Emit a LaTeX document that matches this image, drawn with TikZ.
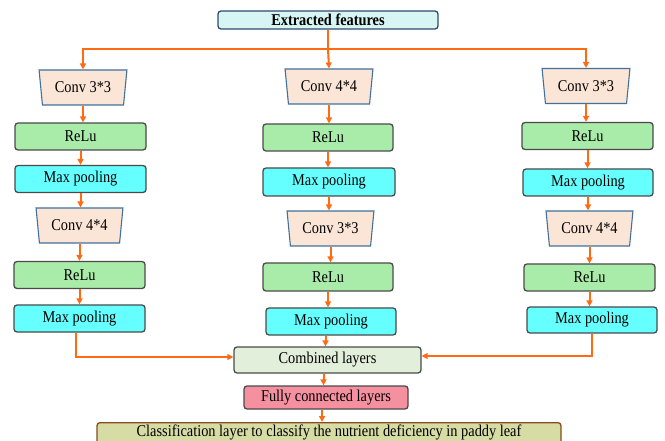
\documentclass[tikz,border=0pt]{standalone}
\usepackage{fontspec}
\setmainfont[FakeStretch=0.87]{Liberation Serif}
\usetikzlibrary{shapes.geometric,arrows.meta}
\definecolor{arr}{HTML}{FF6A13}
\definecolor{bord}{HTML}{4A4A4A}
\definecolor{convfill}{HTML}{FBE5D6}
\definecolor{convbord}{HTML}{41719C}
\definecolor{relufill}{HTML}{A9EBA9}
\definecolor{mpfill}{HTML}{66FFFF}
\definecolor{combfill}{HTML}{E2EFDA}
\definecolor{fcfill}{HTML}{F4909F}
\definecolor{clsfill}{HTML}{D6DCA4}
\definecolor{clsbord}{HTML}{8B4A1C}
\definecolor{extfill}{HTML}{D6F5F3}
\definecolor{extbord}{HTML}{2F4A6A}
\begin{document}
\begin{tikzpicture}[x=1pt,y=-1pt,
  every node/.style={font=\fontsize{16.5}{18}\selectfont, inner sep=0pt},
  rbox/.style={draw=bord, line width=1.3pt, rounded corners=3pt, minimum height=27pt},
  convbox/.style={trapezium, trapezium stretches=true, trapezium left angle=78, trapezium right angle=78,
     shape border rotate=180, draw=convbord, line width=1.1pt, fill=convfill, minimum width=88pt, minimum height=35pt},
  relubox/.style={rbox, fill=relufill, minimum width=131pt},
  mpbox/.style={rbox, fill=mpfill, minimum width=131pt},
  conn/.style={draw=arr, line width=2pt},
  arrow/.style={conn, -{Triangle[length=6pt,width=6pt]}}
]
\useasboundingbox (0,0) rectangle (665,441);

\node[draw=extbord, line width=1.3pt, rounded corners=3pt, fill=extfill, minimum width=220pt, minimum height=18pt,
  font=\fontsize{16.5}{18}\selectfont\bfseries] (ext) at (328,20) {Extracted features};

% left column
\node[convbox] (lc1) at (83,87.5) {Conv 3*3};
\node[relubox] (lr1) at (80.5,136.5) {ReLu};
\node[mpbox]   (lm1) at (80.5,179) {Max pooling};
\node[convbox, minimum width=87pt] (lc2) at (79.5,225.5) {Conv 4*4};
\node[relubox] (lr2) at (79.5,275) {ReLu};
\node[mpbox]   (lm2) at (79.5,318.5) {Max pooling};

% middle column
\node[convbox] (mc1) at (329,86.5) {Conv 4*4};
\node[relubox, minimum width=130pt] (mr1) at (328,137.5) {ReLu};
\node[mpbox, minimum height=28pt, minimum width=132pt]   (mm1) at (329,182) {Max pooling};
\node[convbox, minimum width=87pt] (mc2) at (330.5,228.5) {Conv 3*3};
\node[relubox, minimum height=28pt, minimum width=130pt] (mr2) at (328,277) {ReLu};
\node[mpbox, minimum width=130pt]   (mm2) at (331,321.5) {Max pooling};

% right column
\node[convbox] (rc1) at (586,86) {Conv 3*3};
\node[relubox] (rr1) at (587.5,136) {ReLu};
\node[mpbox, minimum width=130pt]   (rm1) at (588,182.5) {Max pooling};
\node[convbox, minimum width=87pt] (rc2) at (589.5,228.5) {Conv 4*4};
\node[relubox] (rr2) at (589.5,277.5) {ReLu};
\node[mpbox, minimum height=26pt, minimum width=130pt]   (rm2) at (592,320) {Max pooling};

% bottom
\node[rbox, fill=combfill, minimum width=187pt, minimum height=26pt] (comb) at (327.5,360) {Combined layers};
\node[rbox, fill=fcfill, minimum width=164pt, minimum height=23pt] (fc) at (326,397.5) {Fully connected layers};
\node[draw=clsbord, line width=1.3pt, rounded corners=3pt, fill=clsfill, minimum width=464pt, minimum height=26pt,
  anchor=north] (cls) at (329,422) {};
\node[anchor=base] (clstext) at (329,436) {Classification layer to classify the nutrient deficiency in paddy leaf};

% top distribution
\coordinate (split) at (ext.south |- 0,49);
\draw[conn] (ext.south) -- (split);
\draw[arrow] (split) -- (mc1.north);
\draw[arrow] (split) -| (lc1.north);
\draw[arrow] (split) -| (rc1.north);

% column arrows
\foreach \a/\b in {lc1/lr1, lr1/lm1, lm1/lc2, lc2/lr2, lr2/lm2,
                   mc1/mr1, mr1/mm1, mm1/mc2, mc2/mr2, mr2/mm2,
                   rc1/rr1, rr1/rm1, rm1/rc2, rc2/rr2, rr2/rm2}
  \draw[arrow] (\a.south) -- (\a.south |- \b.north);

% merge
\draw[arrow] ([xshift=-4pt]lm2.south) |- ([yshift=3pt]comb.west);
\draw[arrow] (mm2.south -| comb.north) ++(-2pt,0) coordinate (mtop) -- (mtop |- comb.north);
\draw[arrow] (rm2.south) |- ([yshift=4pt]comb.east);
\draw[arrow] ([xshift=-4pt]comb.south) -- ([xshift=-4pt]comb.south |- fc.north);
\draw[arrow] ([xshift=-4pt]fc.south) -- ([xshift=-4pt]fc.south |- cls.north);
\end{tikzpicture}
\end{document}
